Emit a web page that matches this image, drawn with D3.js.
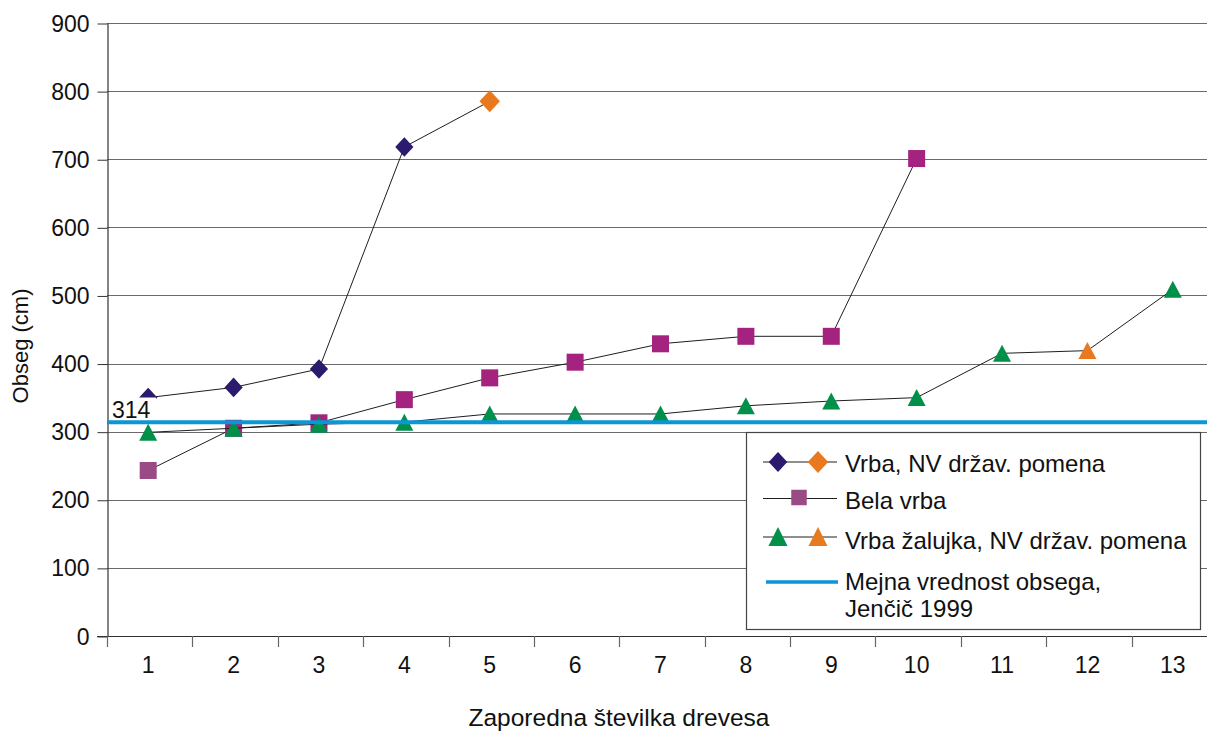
<!DOCTYPE html>
<html>
<head>
<meta charset="utf-8">
<script src="https://cdn.jsdelivr.net/npm/d3@7"></script>
<style>
html,body{margin:0;padding:0;background:#fff;}
svg{display:block;font-family:"Liberation Sans",Arial,sans-serif;}
</style>
</head>
<body>
<svg id="chart" width="1207" height="732"></svg>
<script>
const categories = [1,2,3,4,5,6,7,8,9,10,11,12,13];
const yTicks = [0,100,200,300,400,500,600,700,800,900];
// Vrba, NV držav. pomena (diamonds); last point highlighted orange
const vrbaNV = [350,365,392,718,785];
const vrbaNVHighlight = [false,false,false,false,true];
// Bela vrba (squares); first point lighter
const belaVrba = [243,305,313,347,379,402,429,440,440,701];
const belaVrbaLight = [true,false,false,false,false,false,false,false,false,false];
// Vrba žalujka, NV držav. pomena (triangles); point 12 highlighted orange
const zalujka = [299,305,311,314,326,326,326,338,345,350,415,419,509];
const zalujkaHighlight = [false,false,false,false,false,false,false,false,false,false,false,true,false];
const threshold = 314;
const legendLabels = ["Vrba, NV držav. pomena","Bela vrba","Vrba žalujka, NV držav. pomena","Mejna vrednost obsega,","Jenčič 1999"];

const C = {navy:"#2B1A6E", orange:"#E8791E", magenta:"#A3237F", magentaLight:"#9A4B86", green:"#00904A", blue:"#0B96D7"};
const TXT = "#111";

const svg = d3.select("#chart");
const x = d3.scaleBand().domain(categories).range([107,1217]).paddingInner(0).paddingOuter(0);
const cx = d => x(d) + x.bandwidth()/2 - 1.5;
const y = d3.scaleLinear().domain([0,900]).range([636,23]);

// gridlines
svg.append("g").selectAll("line").data(yTicks.filter(t=>t>0)).join("line")
  .attr("x1",107).attr("x2",1207)
  .attr("y1",d=>Math.round(y(d))+0.5).attr("y2",d=>Math.round(y(d))+0.5)
  .attr("stroke","#6a6a6a").attr("stroke-width",1.2);

// y axis
const yAxis = d3.axisLeft(y).tickValues(yTicks).tickSize(10).tickPadding(8).tickSizeOuter(0);
const gy = svg.append("g").attr("transform","translate(107.5,0)").call(yAxis);
gy.select(".domain").attr("stroke","#333").attr("stroke-width",1.2);
gy.selectAll(".tick line").attr("stroke","#333").attr("transform","translate(0,0.5)");
gy.selectAll(".tick text").attr("font-size",23).attr("fill",TXT)
  .attr("font-family","Liberation Sans, Arial, sans-serif").attr("dy","0.35em");

// x axis
const xAxis = d3.axisBottom(x).tickSize(0).tickPadding(20);
const gx = svg.append("g").attr("transform","translate(0,636.5)").call(xAxis);
gx.select(".domain").remove();
svg.append("line").attr("x1",97).attr("x2",1207).attr("y1",636.5).attr("y2",636.5).attr("stroke","#333").attr("stroke-width",1.2);
gx.selectAll(".tick text").attr("font-size",23).attr("fill",TXT)
  .attr("font-family","Liberation Sans, Arial, sans-serif").attr("dy","0.71em")
  .attr("transform","translate(-1.5,0)");
// band boundary ticks
svg.append("g").selectAll("line").data(categories).join("line")
  .attr("x1",d=>Math.round(x(d))+0.5).attr("x2",d=>Math.round(x(d))+0.5)
  .attr("y1",636).attr("y2",647).attr("stroke","#666").attr("stroke-width",1.2);

// axis titles
svg.append("text").attr("transform","translate(28,346) rotate(-90)").attr("text-anchor","middle")
  .attr("font-size",22).attr("fill",TXT).text("Obseg (cm)");
svg.append("text").attr("x",619).attr("y",726).attr("text-anchor","middle")
  .attr("font-size",24.5).attr("fill",TXT).text("Zaporedna številka drevesa");

const line = d3.line().x((d,i)=>cx(categories[i])).y(d=>y(d));
const lineColor = "#1e1e1e";

function diamond(g, px, py, r, fill){
  g.append("path").attr("d",`M${px},${py-r}L${px+r*0.93},${py}L${px},${py+r}L${px-r*0.93},${py}Z`).attr("fill",fill);
}
function square(g, px, py, s, fill){
  g.append("rect").attr("x",px-s/2).attr("y",py-s/2).attr("width",s).attr("height",s).attr("fill",fill);
}
function triangle(g, px, py, w, h, fill){
  g.append("path").attr("d",`M${px},${py-h/2}L${px+w/2},${py+h/2}L${px-w/2},${py+h/2}Z`).attr("fill",fill);
}

// series 1
const g1 = svg.append("g");
g1.append("path").attr("d",line(vrbaNV)).attr("fill","none").attr("stroke",lineColor).attr("stroke-width",1);
vrbaNV.forEach((v,i)=>{
  const hl = vrbaNVHighlight[i];
  diamond(g1, cx(categories[i]), y(v), hl?11:9.8, hl?C.orange:C.navy);
});
// series 2
const g2 = svg.append("g");
g2.append("path").attr("d",line(belaVrba)).attr("fill","none").attr("stroke",lineColor).attr("stroke-width",1);
belaVrba.forEach((v,i)=>{
  square(g2, cx(categories[i]), y(v), 17, belaVrbaLight[i]?C.magentaLight:C.magenta);
});
// series 3
const g3 = svg.append("g");
g3.append("path").attr("d",line(zalujka)).attr("fill","none").attr("stroke",lineColor).attr("stroke-width",1);
zalujka.forEach((v,i)=>{
  triangle(g3, cx(categories[i]), y(v), 18, 17, zalujkaHighlight[i]?C.orange:C.green);
});

// threshold line
svg.append("line").attr("x1",107).attr("x2",1207).attr("y1",y(threshold)).attr("y2",y(threshold))
  .attr("stroke",C.blue).attr("stroke-width",4);
// threshold label with white background
svg.append("rect").attr("x",110).attr("y",397.5).attr("width",46).attr("height",22).attr("fill","#fff");
svg.append("text").attr("x",112).attr("y",418).attr("font-size",23).attr("fill",TXT).text(String(threshold));

// legend
const lg = svg.append("g");
lg.append("rect").attr("x",746.5).attr("y",432.5).attr("width",454).attr("height",197)
  .attr("fill","#fff").attr("stroke","#444").attr("stroke-width",1.2);
// row 1
lg.append("line").attr("x1",763).attr("x2",837).attr("y1",462).attr("y2",462).attr("stroke",lineColor);
diamond(lg, 778, 462, 10, C.navy);
diamond(lg, 818, 462, 11, C.orange);
// row 2
lg.append("line").attr("x1",763).attr("x2",837).attr("y1",498.5).attr("y2",498.5).attr("stroke",lineColor);
square(lg, 799, 497.5, 15.5, C.magentaLight);
// row 3
lg.append("line").attr("x1",763).attr("x2",837).attr("y1",537).attr("y2",537).attr("stroke",lineColor);
triangle(lg, 778, 536.5, 19, 19, C.green);
triangle(lg, 818, 536.5, 19, 19, C.orange);
// row 4
lg.append("line").attr("x1",766).attr("x2",838).attr("y1",582).attr("y2",582).attr("stroke",C.blue).attr("stroke-width",3.5);
const ly = [471.5,509,548.5,589.5,616.5];
legendLabels.forEach((t,i)=>{
  lg.append("text").attr("x",845).attr("y",ly[i]).attr("font-size",24).attr("fill",TXT).text(t);
});
</script>
</body>
</html>
